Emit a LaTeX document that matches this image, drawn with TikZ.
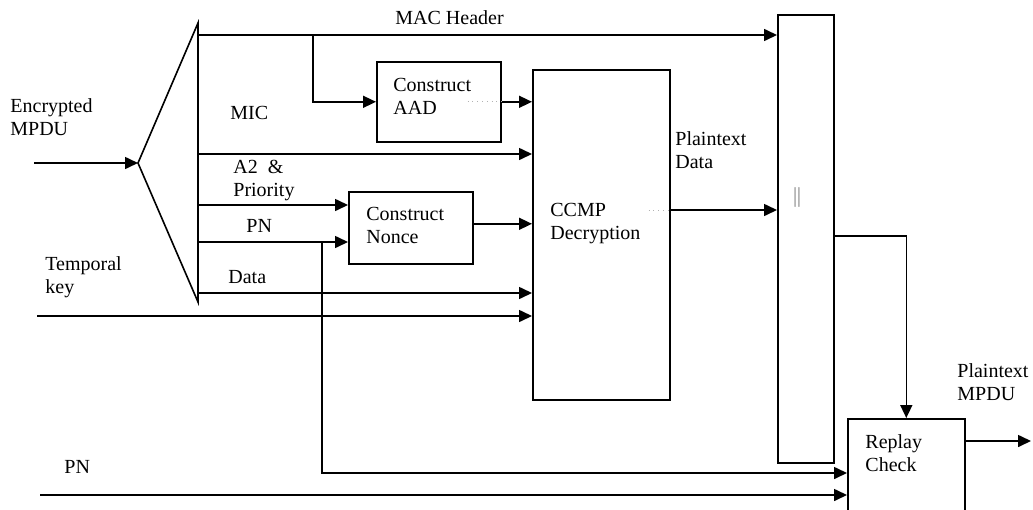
\documentclass[tikz,border=0pt]{standalone}
\usepackage{fontspec}
\setmainfont{Liberation Serif}
\usetikzlibrary{arrows.meta,positioning}

\tikzset{
  wire/.style={line width=0.8pt},
  arr/.style={wire, -{Triangle[length=6.5pt,width=6pt]}},
  blk/.style={draw, line width=0.8pt, anchor=north west, inner sep=0pt},
  lbl/.style={anchor=base west, inner sep=0pt, align=left,
    font=\fontsize{10pt}{11.5pt}\selectfont},
  faint/.style={gray!60, line width=0.4pt, dotted},
}

\begin{document}
\begin{tikzpicture}[x=0.5pt,y=-0.5pt]
  \useasboundingbox (0,0) rectangle (1033,509);

  % splitter
  \coordinate (tritop) at (198,23);
  \coordinate (apex) at (138,163);
  \coordinate (tribot) at (198,302);
  \draw[wire] (tritop) -- (apex) -- (tribot) -- cycle;

  % blocks
  \node[blk, minimum width=62pt, minimum height=40pt] (aad) at (376,61) {};
  \node[blk, minimum width=62pt, minimum height=36pt] (nonce) at (348,191) {};
  \node[blk, minimum width=68.5pt, minimum height=165pt] (ccmp) at (532,69) {};
  \node[blk, minimum width=28pt, minimum height=224pt] (cat) at (777,14) {};
  \node[blk, minimum width=58.5pt, minimum height=70pt] (rc) at (847,418) {};

  % texts (two-line labels sit on their last baseline)
  \node[lbl] (encl) at (10,135) {Encrypted\\MPDU};
  \node[lbl] (macl) at (395,24) {MAC Header};
  \node[lbl] (micl) at (230,119) {MIC};
  \node[lbl] (a2l) at (233,196) {A2\ \ \&\\Priority};
  \node[lbl] (pnl) at (246,232) {PN};
  \node[lbl] (datal) at (228,283) {Data};
  \node[lbl] (tkl) at (45,293) {Temporal\\key};
  \node[lbl] (pn2l) at (64,473) {PN};
  \node[lbl] (aadl) at (393,114) {Construct\\AAD};
  \node[lbl] (noncel) at (366,243) {Construct\\Nonce};
  \node[lbl] (ccmpl) at (550,239) {CCMP\\Decryption};
  \node[lbl] (ptdl) at (675,168) {Plaintext\\Data};
  \node[gray!70!black, inner sep=0pt] (catl) at (797,197) {$\|$};
  \node[lbl] (rcl) at (865,471) {Replay\\Check};
  \node[lbl] (outl) at (957,400) {Plaintext\\MPDU};

  % taps on the splitter
  \coordinate (enc) at (34,163);
  \coordinate (mac) at (198,35);
  \coordinate (macb) at (249,35);
  \coordinate (mic) at (198,154);
  \coordinate (a2) at (198,205);
  \coordinate (pn) at (198,242);
  \coordinate (pnb) at (322,242);
  \coordinate (pnc) at (322,473);
  \coordinate (data) at (198,293);
  \coordinate (tk) at (37,316);
  \coordinate (pn2) at (40,495);
  \coordinate (ptd) at (0,210);
  \coordinate (catout) at (0,236);
  \coordinate (rcout) at (0,441);
  \coordinate (out) at (1031,441);

  % connectors
  \draw[arr] (enc) -- (apex);
  \draw[arr] (mac) -- (mac -| cat.west);
  \draw[arr] (macb) -- ++(64,0) |- (aad.west);
  \draw[arr] (aad.east) -- (aad.east -| ccmp.west);
  \draw[arr] (mic) -- (mic -| ccmp.west);
  \draw[arr] (a2) -- (a2 -| nonce.west);
  \draw[arr] (pn) -- (pn -| nonce.west);
  \draw[arr] (pnb) -- (pnc) -- (pnc -| rc.west);
  \draw[arr] ([yshift=2pt]nonce.east) -- ([yshift=2pt]nonce.east -| ccmp.west);
  \draw[arr] (data) -- (data -| ccmp.west);
  \draw[arr] (tk) -- (tk -| ccmp.west);
  \draw[arr] (ccmp.east |- ptd) -- (ptd -| cat.west);
  \draw[arr] (cat.east |- catout) -| (rc.north);
  \draw[arr] (pn2) -- (pn2 -| rc.west);
  \draw[arr] (rc.east |- rcout) -- (out);

  % faint dotted stubs
  \draw[faint] ([xshift=-17pt]aad.east) -- (aad.east);
  \draw[faint] ([xshift=-11pt]ccmp.east |- ptd) -- (ccmp.east |- ptd);
\end{tikzpicture}
\end{document}
